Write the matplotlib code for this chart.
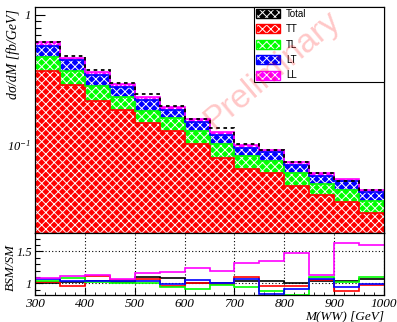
"""Stacked WW polarisation fractions (TT/TL/LT/LL) vs M(WW), with BSM/SM ratio pad."""

import matplotlib

matplotlib.use("Agg")
import matplotlib.pyplot as plt  # noqa: E402
from matplotlib.patches import Patch  # noqa: E402
from matplotlib.ticker import FixedLocator, MultipleLocator, NullFormatter  # noqa: E402

# ---------------------------------------------------------------------------
# Data
# ---------------------------------------------------------------------------
edges = [300, 350, 400, 450, 500, 550, 600, 650, 700, 750, 800, 850, 900, 950, 1000]

xs_tt = [0.371, 0.289, 0.218, 0.186, 0.147, 0.128, 0.101, 0.079, 0.064, 0.060, 0.047, 0.040, 0.0355, 0.029]
xs_tl = [0.102, 0.082, 0.063, 0.047, 0.036, 0.032, 0.026, 0.021, 0.018, 0.014, 0.013, 0.0095, 0.0084, 0.0072]
xs_lt = [0.108, 0.077, 0.065, 0.045, 0.038, 0.026, 0.022, 0.019, 0.012, 0.013, 0.0095, 0.0074, 0.0077, 0.0061]
xs_ll = [0.034, 0.021, 0.017, 0.015, 0.010, 0.008, 0.008, 0.005, 0.005, 0.004, 0.003, 0.0027, 0.0017, 0.0017]
xs_total = [0.615, 0.486, 0.380, 0.300, 0.245, 0.200, 0.158, 0.134, 0.101, 0.092, 0.0744, 0.061, 0.0533, 0.045]

ratio_total = [1.00, 1.02, 1.03, 1.02, 1.095, 1.085, 1.01, 1.00, 1.03, 1.04, 1.00, 1.04, 1.03, 1.073]
ratio_tt = [1.02, 0.96, 1.11, 1.05, 1.06, 0.96, 1.00, 0.985, 1.10, 0.955, 0.955, 1.055, 0.875, 0.975]
ratio_tl = [1.04, 1.08, 1.02, 1.01, 1.005, 0.94, 0.915, 0.975, 0.945, 0.88, 0.82, 1.10, 1.025, 1.105]
ratio_lt = [1.06, 1.04, 1.04, 1.03, 1.035, 0.99, 1.045, 1.00, 1.07, 0.826, 0.905, 1.065, 0.94, 0.993]
ratio_ll = [1.09, 1.11, 1.13, 1.07, 1.165, 1.18, 1.24, 1.195, 1.32, 1.355, 1.47, 1.137, 1.627, 1.605]

labels = ["TT", "TL", "LT", "LL"]

# ROOT primary colours
_RED = "#ff0000"
_GREEN = "#00ff00"
_BLUE = "#0000ff"
_MAGENTA = "#ff00ff"
_BLACK = "#000000"

# each "x" is 6 lines/inch per direction -> ~4 px checker at 100 dpi
_HATCH = "xxxx"
_SERIF = "Liberation Serif"

plt.rcParams["hatch.linewidth"] = 0.7
plt.rcParams["mathtext.fontset"] = "custom"
plt.rcParams["mathtext.rm"] = "Liberation Serif:italic"
plt.rcParams["mathtext.it"] = "Liberation Serif:italic"

fig = plt.figure(figsize=(3.97, 3.22), dpi=100)
ax = fig.add_axes([35 / 397, 1 - 233 / 322, 349 / 397, 226 / 322])
rax = fig.add_axes([35 / 397, 1 - 295 / 322, 349 / 397, 62 / 322])

# ---------------------------------------------------------------------------
# Main pad: stacked histograms
# ---------------------------------------------------------------------------
layers = [xs_tt, xs_tl, xs_lt, xs_ll]
colors = [_RED, _GREEN, _BLUE, _MAGENTA]
bottom = [1e-3] * len(xs_tt)
for vals, col in zip(layers, colors):
    top = [b + v for b, v in zip(bottom, vals)]
    ax.stairs(top, edges, baseline=bottom, fill=True, facecolor=col,
              edgecolor="white", hatch=_HATCH, linewidth=0, zorder=2)
    ax.stairs(top, edges, baseline=None, color=col, linewidth=1.2, zorder=2.2)
    bottom = top

ax.stairs(xs_total, edges, baseline=None, color=_BLACK, linewidth=1.3,
          linestyle=(0, (2, 2)), zorder=2.3)

ax.set_yscale("log")
ax.set_xlim(300, 1000)
ax.set_ylim(0.02104, 1.152)
ax.yaxis.set_major_locator(FixedLocator([0.1, 1.0]))
ax.yaxis.set_minor_locator(FixedLocator([0.03, 0.04, 0.05, 0.06, 0.07, 0.08, 0.09,
                                         0.2, 0.3, 0.4, 0.5, 0.6, 0.7, 0.8, 0.9]))
ax.yaxis.set_minor_formatter(NullFormatter())
ax.set_yticklabels([r"$10^{-1}$", "1"], family=_SERIF, style="italic", fontsize=9)
ax.xaxis.set_major_locator(MultipleLocator(100))
ax.xaxis.set_minor_locator(MultipleLocator(20))
ax.tick_params(axis="x", labelbottom=False, direction="in", length=5, width=0.8)
ax.tick_params(axis="x", which="minor", direction="in", length=2.5, width=0.6)
ax.tick_params(axis="y", which="major", direction="in", length=7.5, width=0.8, pad=3)
ax.tick_params(axis="y", which="minor", direction="in", length=4, width=0.8)
for sp in ax.spines.values():
    sp.set_linewidth(0.9)

handles = []
for col in [_BLACK] + colors:
    handles.append((Patch(facecolor=col, edgecolor="white", hatch=_HATCH, linewidth=0),
                    Patch(fill=False, edgecolor=col, linewidth=1.0)))
leg = ax.legend(handles, ["Total"] + labels, loc="upper left",
                bbox_to_anchor=(0.6275, 0.0, 0.3725, 1.0), mode="expand",
                borderaxespad=0, fancybox=False, framealpha=1, edgecolor="black",
                prop={"family": "Liberation Sans", "size": 7},
                handlelength=2.5, handleheight=1.05, labelspacing=0.55,
                handletextpad=0.6, borderpad=0.2)
leg.get_frame().set_linewidth(0.8)
leg.set_zorder(5)

fig.text(272 / 397, 1 - 70 / 322, "Preliminary", color=_RED, alpha=0.22,
         fontsize=24, family="Liberation Sans", rotation=40,
         ha="center", va="center", zorder=6)

# ---------------------------------------------------------------------------
# Ratio pad
# ---------------------------------------------------------------------------
for vals, col in zip([ratio_total, ratio_tt, ratio_tl, ratio_lt, ratio_ll],
                     [_BLACK, _RED, _GREEN, _BLUE, _MAGENTA]):
    rax.stairs(vals, edges, baseline=None, color=col, linewidth=1.2, zorder=2)

rax.set_xlim(300, 1000)
rax.set_ylim(0.816, 1.79)
rax.xaxis.set_major_locator(MultipleLocator(100))
rax.xaxis.set_minor_locator(MultipleLocator(20))
rax.yaxis.set_major_locator(FixedLocator([1.0, 1.5]))
rax.yaxis.set_minor_locator(FixedLocator([0.9, 1.1, 1.2, 1.3, 1.4, 1.6, 1.7]))
rax.set_yticklabels(["1", "1.5"], family=_SERIF, style="italic", fontsize=9)
rax.set_xticks(edges[::2])
rax.set_xticklabels([str(e) for e in edges[::2]], family=_SERIF, style="italic", fontsize=9.5)
rax.grid(True, which="major", color="black", linestyle=(0, (1, 2)), linewidth=0.8)
rax.tick_params(axis="x", which="major", direction="in", length=5, width=0.8, pad=2)
rax.tick_params(axis="x", which="minor", direction="in", length=2.5, width=0.6)
rax.tick_params(axis="y", which="major", direction="in", length=6, width=0.8, pad=2)
rax.tick_params(axis="y", which="minor", direction="in", length=3.5, width=0.8)
for sp in rax.spines.values():
    sp.set_linewidth(0.9)

# Axis titles, ROOT style (right/top aligned)
fig.text(13 / 397, 1 - 9 / 322, "dσ/dM [fb/GeV]", rotation=90, ha="center", va="top",
         family=_SERIF, style="italic", fontsize=10)
fig.text(11 / 397, 1 - 244 / 322, "BSM/SM", rotation=90, ha="center", va="top",
         family=_SERIF, style="italic", fontsize=9.5)
fig.text(384 / 397, 1 - 316 / 322, "M(WW) [GeV]", ha="right", va="center",
         family=_SERIF, style="italic", fontsize=9.5)

fig.savefig("out.png", dpi=100)
